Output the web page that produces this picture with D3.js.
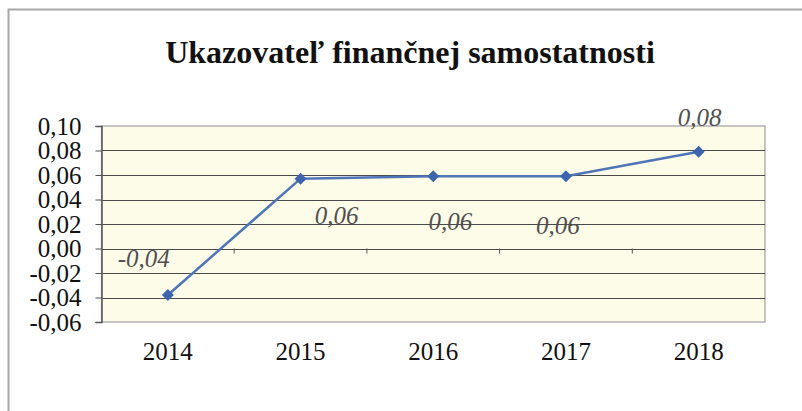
<!DOCTYPE html>
<html>
<head>
<meta charset="utf-8">
<script src="https://cdn.jsdelivr.net/npm/d3@7"></script>
<style>
  body { margin: 0; background: #fff; }
  svg { display: block; }
</style>
</head>
<body>
<div id="chart"></div>
<script>
var years = ["2014", "2015", "2016", "2017", "2018"];
var values = [-0.038, 0.057, 0.059, 0.059, 0.079];
var labels = ["-0,04", "0,06", "0,06", "0,06", "0,08"];
var yTicks = [-0.06, -0.04, -0.02, 0.00, 0.02, 0.04, 0.06, 0.08, 0.10];

// label offsets relative to the point (dx, dy)
var labelOffsets = [[-24, -28], [36, 45], [17, 54], [-8, 58], [1, -26]];

var serif = "'Liberation Serif', 'Times New Roman', serif";
var width = 802, height = 411;
var margin = { left: 101.5, right: 37, top: 126, bottom: 89 };

var svg = d3.select("#chart").append("svg")
    .attr("width", width)
    .attr("height", height);

// outer frame
svg.append("rect")
    .attr("x", 8.5).attr("y", 9.5)
    .attr("width", 820).attr("height", 430)
    .attr("fill", "#fff")
    .attr("stroke", "#a8a8a8")
    .attr("stroke-width", 2);

svg.append("text")
    .attr("x", 410).attr("y", 63)
    .attr("text-anchor", "middle")
    .style("font-family", serif)
    .style("font-weight", "bold")
    .style("font-size", "32px")
    .attr("fill", "#111")
    .text("Ukazovateľ finančnej samostatnosti");

var x = d3.scaleBand()
    .domain(years)
    .range([margin.left, width - margin.right]);

var y = d3.scaleLinear()
    .domain([-0.06, 0.10])
    .range([height - margin.bottom, margin.top]);

var fmt = function(d) { return d3.format(".2f")(d).replace(".", ",").replace("\u2212", "-"); };

// plot background
svg.append("rect")
    .attr("x", x.range()[0]).attr("y", y(0.10))
    .attr("width", x.range()[1] - x.range()[0])
    .attr("height", y(-0.06) - y(0.10))
    .attr("fill", "#fdfce9")
    .attr("stroke", "#a0a0a0")
    .attr("stroke-width", 1.2);

// gridlines
svg.append("g").selectAll("line")
    .data(yTicks.slice(1, -1))
    .enter().append("line")
    .attr("x1", x.range()[0]).attr("x2", x.range()[1])
    .attr("y1", function(d) { return Math.round(y(d)) + 0.5; })
    .attr("y2", function(d) { return Math.round(y(d)) + 0.5; })
    .attr("stroke", "#4a4a4a")
    .attr("stroke-width", 1.2);

// y axis
var yAxis = svg.append("g")
    .attr("transform", "translate(" + x.range()[0] + ",0)")
    .call(d3.axisLeft(y).tickValues(yTicks).tickFormat(fmt).tickSize(6).tickPadding(14));
yAxis.select(".domain").attr("stroke", "#555").attr("stroke-width", 1.5);
yAxis.selectAll(".tick line").attr("stroke", "#555");
yAxis.selectAll("text")
    .style("font-family", serif)
    .style("font-size", "25px")
    .attr("fill", "#111")
    .attr("dy", "0.33em");

// small tick marks on zero line between categories
svg.append("g").selectAll("line")
    .data(years.slice(1))
    .enter().append("line")
    .attr("x1", function(d) { return x(d); })
    .attr("x2", function(d) { return x(d); })
    .attr("y1", y(0)).attr("y2", y(0) + 5)
    .attr("stroke", "#555");

// x labels
var xAxis = svg.append("g")
    .attr("transform", "translate(0," + y(-0.06) + ")")
    .call(d3.axisBottom(x).tickSize(0).tickPadding(20));
xAxis.select(".domain").remove();
xAxis.selectAll("text")
    .style("font-family", serif)
    .style("font-size", "25px")
    .attr("fill", "#111");

// line
var cx = function(i) { return x(years[i]) + x.bandwidth() / 2; };
var line = d3.line()
    .x(function(d, i) { return cx(i); })
    .y(function(d) { return y(d); });

svg.append("path")
    .datum(values)
    .attr("d", line)
    .attr("fill", "none")
    .attr("stroke", "#4f75b8")
    .attr("stroke-width", 2.5);

svg.append("g").selectAll("path")
    .data(values)
    .enter().append("path")
    .attr("d", d3.symbol().type(d3.symbolSquare).size(72))
    .attr("transform", function(d, i) {
        return "translate(" + cx(i) + "," + y(d) + ") rotate(45)";
    })
    .attr("fill", "#3d64ad");

// data labels
svg.append("g").selectAll("text")
    .data(values)
    .enter().append("text")
    .attr("x", function(d, i) { return cx(i) + labelOffsets[i][0]; })
    .attr("y", function(d, i) { return y(d) + labelOffsets[i][1]; })
    .attr("text-anchor", "middle")
    .style("font-family", serif)
    .style("font-style", "italic")
    .style("font-size", "25px")
    .attr("fill", "#505050")
    .text(function(d, i) { return labels[i]; });
</script>
</body>
</html>
